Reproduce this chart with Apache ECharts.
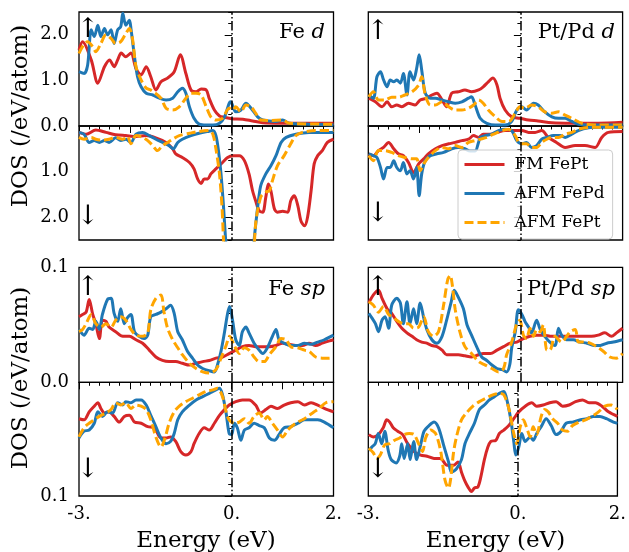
<!DOCTYPE html>
<html><head><meta charset="utf-8">
<script src="https://cdn.jsdelivr.net/npm/echarts@6/dist/echarts.min.js"></script>
<style>html,body{margin:0;padding:0;background:#fff}#c{width:629px;height:552px}</style>
</head><body><div id="c"></div>
<script>
const FONT = 'DejaVu Serif';
const seriesNames = ['FM FePt', 'AFM FePd', 'AFM FePt'];
const seriesColors = ['#d62728', '#1f77b4', '#ffa500'];
const panelTitles = [['Fe ', 'd'], ['Pt/Pd ', 'd'], ['Fe ', 'sp'], ['Pt/Pd ', 'sp']];
const xTickLabels = [-3, 0, 2];
const xMajorTicks = [-3, -2, -1, 0, 1, 2];
const yD_labelsUp = [0, 1, 2], yD_labelsDown = [1, 2], yD_major = [0, 1, 2];
const ySP_labelsUp = [0, 0.1], ySP_labelsDown = [0.1], ySP_major = [0, 0.1];

// ---- Fe d, spin up ----
const feD_up_FM = [[-3.00,1.67],[-2.93,1.85],[-2.76,1.45],[-2.63,0.94],[-2.50,1.30],[-2.40,1.45],[-2.31,1.30],[-2.24,1.45],[-2.17,1.60],[-2.08,1.52],[-1.98,1.60],[-1.88,1.26],[-1.78,1.12],[-1.68,1.30],[-1.59,1.08],[-1.49,0.79],[-1.39,0.97],[-1.26,1.05],[-1.13,1.19],[-1.01,1.56],[-0.90,1.15],[-0.80,0.79],[-0.70,0.75],[-0.60,0.81],[-0.50,0.79],[-0.44,0.60],[-0.34,0.35],[-0.24,0.22],[-0.14,0.19],[0.00,0.16],[0.22,0.15],[0.41,0.11],[0.61,0.07],[1.00,0.06],[2.00,0.06]];
const feD_up_AFMPd = [[-3.00,1.19],[-2.90,1.15],[-2.83,1.34],[-2.76,2.11],[-2.70,1.96],[-2.63,2.21],[-2.57,1.96],[-2.50,2.14],[-2.44,2.00],[-2.37,2.11],[-2.31,1.81],[-2.24,2.11],[-2.18,2.18],[-2.14,2.47],[-2.08,2.21],[-2.01,2.32],[-1.98,2.14],[-1.91,1.52],[-1.85,1.08],[-1.78,0.86],[-1.68,0.72],[-1.55,0.68],[-1.42,0.61],[-1.29,0.57],[-1.16,0.61],[-1.06,0.75],[-0.97,0.83],[-0.90,0.72],[-0.83,0.42],[-0.74,0.17],[-0.64,0.04],[-0.50,0.02],[-0.37,0.02],[-0.24,0.06],[-0.14,0.20],[-0.05,0.50],[-0.02,0.53],[0.08,0.31],[0.18,0.35],[0.28,0.50],[0.38,0.39],[0.51,0.20],[0.61,0.13],[0.87,0.10],[1.00,0.13],[1.13,0.06],[1.52,0.04],[2.00,0.02]];
const feD_up_AFMPt = [[-3.00,1.59],[-2.93,1.74],[-2.83,1.85],[-2.73,1.74],[-2.67,1.63],[-2.57,1.81],[-2.47,2.00],[-2.37,1.92],[-2.28,1.81],[-2.18,1.85],[-2.08,2.03],[-2.01,2.14],[-1.95,1.92],[-1.88,1.30],[-1.78,1.01],[-1.68,0.83],[-1.59,0.79],[-1.39,0.61],[-1.29,0.39],[-1.16,0.35],[-1.03,0.42],[-0.90,0.61],[-0.80,0.72],[-0.70,0.72],[-0.60,0.68],[-0.50,0.42],[-0.41,0.20],[-0.31,0.13],[-0.18,0.17],[-0.05,0.39],[0.02,0.35],[0.08,0.42],[0.18,0.31],[0.28,0.46],[0.38,0.42],[0.47,0.28],[0.57,0.13],[0.74,0.12],[1.00,0.13],[1.13,0.06],[2.00,0.04]];
// ---- Fe d, spin down ----
const feD_dn_FM = [[-3.00,0.14],[-2.86,0.18],[-2.67,0.09],[-2.47,0.14],[-2.28,0.19],[-2.08,0.21],[-1.88,0.23],[-1.68,0.21],[-1.49,0.26],[-1.29,0.36],[-1.16,0.50],[-1.10,0.61],[-0.97,0.69],[-0.83,0.80],[-0.74,0.94],[-0.67,1.16],[-0.60,1.26],[-0.54,1.16],[-0.47,1.16],[-0.41,1.05],[-0.31,0.94],[-0.18,0.80],[-0.08,0.69],[0.02,0.65],[0.15,0.65],[0.25,0.76],[0.34,1.05],[0.41,1.42],[0.47,1.64],[0.54,1.86],[0.61,1.89],[0.67,1.56],[0.72,1.27],[0.77,1.42],[0.84,1.82],[0.90,1.89],[1.00,1.87],[1.10,1.89],[1.16,1.64],[1.23,1.53],[1.30,1.75],[1.36,2.08],[1.43,2.19],[1.49,2.00],[1.56,1.42],[1.62,0.83],[1.69,0.65],[1.78,0.54],[1.88,0.36],[2.00,0.29]];
const feD_dn_AFMPd = [[-3.00,0.14],[-2.90,0.18],[-2.80,0.36],[-2.70,0.32],[-2.60,0.36],[-2.50,0.32],[-2.41,0.36],[-2.28,0.26],[-2.18,0.32],[-2.08,0.29],[-1.98,0.36],[-1.88,0.18],[-1.75,0.14],[-1.62,0.21],[-1.49,0.29],[-1.36,0.36],[-1.23,0.43],[-1.15,0.50],[-1.06,0.36],[-0.97,0.29],[-0.80,0.21],[-0.64,0.16],[-0.47,0.12],[-0.37,0.10],[-0.31,0.21],[-0.26,0.54],[-0.21,1.05],[-0.16,1.78],[-0.11,2.66],[-0.05,3.50],[0.15,5.00],[0.35,3.50],[0.44,2.50],[0.51,1.78],[0.57,1.31],[0.67,1.05],[0.77,0.87],[0.87,0.65],[0.97,0.36],[1.07,0.25],[1.26,0.18],[1.52,0.14],[2.00,0.14]];
const feD_dn_AFMPt = [[-3.00,0.25],[-2.90,0.29],[-2.76,0.25],[-2.67,0.29],[-2.54,0.31],[-2.41,0.29],[-2.28,0.25],[-2.14,0.29],[-2.05,0.23],[-1.98,0.39],[-1.88,0.21],[-1.75,0.25],[-1.65,0.32],[-1.55,0.43],[-1.46,0.54],[-1.36,0.43],[-1.26,0.36],[-1.16,0.29],[-1.03,0.21],[-0.83,0.16],[-0.64,0.12],[-0.44,0.10],[-0.37,0.18],[-0.31,0.50],[-0.24,1.05],[-0.19,1.78],[-0.16,2.50],[-0.10,3.50],[0.15,5.00],[0.40,3.50],[0.47,2.15],[0.57,1.56],[0.67,1.45],[0.74,1.42],[0.80,1.20],[0.90,0.87],[1.03,0.65],[1.16,0.39],[1.26,0.21],[1.39,0.14],[1.65,0.10],[2.00,0.10]];
// ---- Pt/Pd d, spin up ----
const ptD_up_FM = [[-2.99,0.61],[-2.86,0.53],[-2.73,0.42],[-2.63,0.53],[-2.54,0.42],[-2.44,0.46],[-2.34,0.42],[-2.21,0.50],[-2.08,0.46],[-1.98,0.57],[-1.85,0.61],[-1.75,0.68],[-1.65,0.72],[-1.55,0.57],[-1.46,0.42],[-1.36,0.72],[-1.23,0.75],[-1.10,0.79],[-0.97,0.75],[-0.83,0.79],[-0.74,0.86],[-0.64,0.97],[-0.55,1.05],[-0.47,0.90],[-0.41,0.61],[-0.31,0.35],[-0.18,0.20],[-0.02,0.17],[0.15,0.13],[0.34,0.11],[0.61,0.07],[1.00,0.06],[1.52,0.06],[2.00,0.08]];
const ptD_up_AFMPd = [[-2.99,0.68],[-2.90,0.61],[-2.83,1.08],[-2.76,1.19],[-2.70,1.01],[-2.63,0.86],[-2.57,1.01],[-2.50,0.97],[-2.44,1.01],[-2.37,0.94],[-2.31,1.15],[-2.24,0.68],[-2.18,1.19],[-2.11,1.01],[-2.05,1.26],[-2.00,1.56],[-1.95,1.23],[-1.88,0.72],[-1.78,0.61],[-1.68,0.61],[-1.55,0.57],[-1.42,0.53],[-1.29,0.50],[-1.16,0.53],[-1.03,0.61],[-0.97,0.64],[-0.90,0.46],[-0.80,0.17],[-0.67,0.06],[-0.50,0.02],[-0.31,0.02],[-0.18,0.10],[-0.08,0.35],[0.02,0.42],[0.11,0.35],[0.25,0.50],[0.34,0.46],[0.47,0.31],[0.61,0.20],[0.74,0.17],[0.87,0.17],[1.00,0.10],[1.13,0.04],[1.52,0.02],[2.00,0.02]];
const ptD_up_AFMPt = [[-2.99,0.64],[-2.90,0.75],[-2.80,0.57],[-2.67,0.57],[-2.54,0.63],[-2.41,0.63],[-2.28,0.68],[-2.14,0.75],[-2.01,0.90],[-1.95,1.08],[-1.88,0.68],[-1.78,0.46],[-1.68,0.46],[-1.55,0.53],[-1.42,0.42],[-1.29,0.35],[-1.16,0.35],[-1.03,0.39],[-0.93,0.46],[-0.83,0.57],[-0.74,0.50],[-0.64,0.35],[-0.50,0.20],[-0.37,0.10],[-0.24,0.10],[-0.11,0.28],[-0.02,0.42],[0.08,0.39],[0.21,0.46],[0.34,0.42],[0.47,0.31],[0.61,0.28],[0.74,0.31],[0.87,0.24],[1.00,0.17],[1.20,0.06],[1.52,0.02],[2.00,0.02]];
// ---- Pt/Pd d, spin down ----
const ptD_dn_FM = [[-2.99,0.61],[-2.90,0.65],[-2.80,0.54],[-2.70,0.47],[-2.60,0.36],[-2.50,0.50],[-2.41,0.61],[-2.31,0.65],[-2.21,0.80],[-2.11,1.02],[-2.01,0.83],[-1.91,0.72],[-1.82,0.61],[-1.68,0.50],[-1.55,0.43],[-1.42,0.39],[-1.29,0.36],[-1.16,0.32],[-1.03,0.29],[-0.93,0.21],[-0.83,0.25],[-0.74,0.18],[-0.60,0.18],[-0.47,0.14],[-0.31,0.10],[-0.14,0.10],[0.02,0.10],[0.15,0.14],[0.28,0.14],[0.41,0.10],[0.54,0.25],[0.70,0.36],[0.87,0.47],[1.07,0.43],[1.26,0.43],[1.46,0.47],[1.59,0.25],[1.72,0.14],[2.00,0.12]];
const ptD_dn_AFMPd = [[-2.99,0.61],[-2.90,0.65],[-2.83,0.69],[-2.76,0.91],[-2.70,1.16],[-2.63,0.91],[-2.57,0.91],[-2.50,0.76],[-2.44,0.91],[-2.37,0.98],[-2.31,0.80],[-2.24,1.05],[-2.18,0.98],[-2.11,1.16],[-2.05,0.91],[-2.00,1.53],[-1.95,1.05],[-1.88,0.76],[-1.78,0.65],[-1.65,0.61],[-1.52,0.58],[-1.36,0.50],[-1.23,0.47],[-1.10,0.50],[-1.00,0.55],[-0.90,0.55],[-0.83,0.35],[-0.80,0.25],[-0.70,0.21],[-0.57,0.18],[-0.44,0.10],[-0.31,0.07],[-0.18,0.10],[-0.08,0.32],[0.02,0.39],[0.11,0.36],[0.21,0.47],[0.31,0.43],[0.41,0.29],[0.51,0.25],[0.64,0.21],[0.77,0.21],[0.87,0.25],[1.00,0.18],[1.13,0.10],[1.33,0.04],[1.52,0.03],[2.00,0.03]];
const ptD_dn_AFMPt = [[-2.99,0.65],[-2.90,0.76],[-2.80,0.54],[-2.67,0.54],[-2.54,0.58],[-2.41,0.65],[-2.28,0.69],[-2.14,0.72],[-2.05,0.72],[-1.98,0.98],[-1.91,0.83],[-1.82,0.69],[-1.68,0.54],[-1.55,0.47],[-1.42,0.50],[-1.29,0.43],[-1.16,0.47],[-1.03,0.36],[-0.90,0.32],[-0.80,0.29],[-0.67,0.25],[-0.54,0.18],[-0.37,0.10],[-0.24,0.07],[-0.11,0.21],[-0.02,0.39],[0.11,0.39],[0.21,0.47],[0.31,0.47],[0.41,0.36],[0.51,0.29],[0.61,0.25],[0.74,0.25],[0.87,0.18],[1.00,0.14],[1.13,0.07],[1.39,0.03],[2.00,0.03]];
// ---- Fe sp, spin up ----
const feSP_up_FM = [[-3.00,0.057],[-2.93,0.059],[-2.86,0.061],[-2.80,0.072],[-2.73,0.059],[-2.67,0.051],[-2.60,0.038],[-2.54,0.054],[-2.47,0.053],[-2.41,0.048],[-2.28,0.044],[-2.14,0.040],[-2.01,0.040],[-1.88,0.037],[-1.75,0.034],[-1.62,0.028],[-1.49,0.022],[-1.36,0.019],[-1.23,0.018],[-1.10,0.018],[-0.97,0.0165],[-0.83,0.015],[-0.70,0.0165],[-0.57,0.018],[-0.44,0.019],[-0.31,0.021],[-0.18,0.022],[-0.05,0.025],[0.08,0.028],[0.21,0.031],[0.34,0.032],[0.47,0.031],[0.61,0.031],[0.74,0.031],[0.87,0.032],[1.00,0.034],[1.13,0.033],[1.26,0.032],[1.39,0.032],[1.52,0.034],[1.65,0.032],[1.78,0.034],[1.92,0.036],[2.00,0.037]];
const feSP_up_AFMPd = [[-3.00,0.046],[-2.90,0.041],[-2.80,0.047],[-2.73,0.046],[-2.67,0.053],[-2.60,0.046],[-2.54,0.059],[-2.44,0.072],[-2.37,0.073],[-2.31,0.060],[-2.24,0.053],[-2.18,0.064],[-2.11,0.051],[-2.05,0.056],[-1.98,0.059],[-1.91,0.044],[-1.82,0.040],[-1.72,0.038],[-1.65,0.041],[-1.59,0.057],[-1.49,0.059],[-1.39,0.061],[-1.29,0.064],[-1.20,0.067],[-1.13,0.060],[-1.06,0.044],[-0.97,0.037],[-0.87,0.027],[-0.77,0.021],[-0.67,0.015],[-0.57,0.012],[-0.44,0.010],[-0.34,0.009],[-0.28,0.015],[-0.21,0.027],[-0.14,0.044],[-0.08,0.060],[-0.04,0.066],[0.02,0.053],[0.08,0.037],[0.15,0.032],[0.21,0.044],[0.28,0.048],[0.34,0.043],[0.44,0.034],[0.54,0.028],[0.61,0.025],[0.70,0.030],[0.80,0.040],[0.87,0.046],[0.93,0.037],[1.03,0.034],[1.16,0.032],[1.30,0.032],[1.43,0.034],[1.56,0.033],[1.69,0.035],[1.82,0.037],[2.00,0.041]];
const feSP_up_AFMPt = [[-3.00,0.044],[-2.93,0.046],[-2.86,0.051],[-2.76,0.059],[-2.67,0.051],[-2.57,0.048],[-2.47,0.051],[-2.37,0.048],[-2.28,0.054],[-2.18,0.057],[-2.08,0.054],[-1.98,0.046],[-1.88,0.041],[-1.75,0.040],[-1.65,0.043],[-1.59,0.063],[-1.49,0.073],[-1.39,0.076],[-1.33,0.061],[-1.26,0.047],[-1.16,0.037],[-1.06,0.030],[-0.97,0.024],[-0.83,0.0165],[-0.70,0.012],[-0.57,0.009],[-0.44,0.008],[-0.31,0.011],[-0.21,0.021],[-0.11,0.032],[-0.04,0.040],[0.05,0.032],[0.15,0.025],[0.25,0.030],[0.34,0.028],[0.44,0.022],[0.54,0.018],[0.64,0.018],[0.74,0.024],[0.87,0.031],[0.97,0.038],[1.07,0.037],[1.16,0.031],[1.30,0.030],[1.43,0.028],[1.52,0.027],[1.65,0.022],[1.78,0.021],[1.92,0.021],[2.00,0.022]];
// ---- Fe sp, spin down ----
const feSP_dn_FM = [[-3.00,0.032],[-2.90,0.033],[-2.80,0.026],[-2.70,0.021],[-2.63,0.018],[-2.57,0.023],[-2.50,0.027],[-2.41,0.026],[-2.31,0.030],[-2.21,0.035],[-2.11,0.030],[-2.01,0.029],[-1.91,0.035],[-1.78,0.036],[-1.65,0.039],[-1.52,0.040],[-1.39,0.049],[-1.29,0.049],[-1.20,0.048],[-1.10,0.052],[-1.00,0.061],[-0.90,0.064],[-0.80,0.061],[-0.74,0.054],[-0.64,0.045],[-0.54,0.040],[-0.44,0.042],[-0.34,0.036],[-0.24,0.029],[-0.14,0.024],[-0.05,0.020],[0.08,0.017],[0.21,0.0155],[0.34,0.0155],[0.47,0.020],[0.57,0.027],[0.67,0.024],[0.77,0.021],[0.90,0.023],[1.03,0.020],[1.16,0.018],[1.30,0.017],[1.43,0.020],[1.56,0.018],[1.69,0.020],[1.82,0.023],[2.00,0.026]];
const feSP_dn_AFMPd = [[-3.00,0.049],[-2.90,0.043],[-2.80,0.042],[-2.70,0.036],[-2.63,0.026],[-2.54,0.030],[-2.44,0.026],[-2.34,0.027],[-2.24,0.018],[-2.14,0.020],[-2.08,0.017],[-1.98,0.018],[-1.88,0.0155],[-1.78,0.0155],[-1.68,0.020],[-1.59,0.029],[-1.49,0.039],[-1.39,0.049],[-1.29,0.054],[-1.20,0.052],[-1.13,0.045],[-1.06,0.033],[-0.97,0.026],[-0.83,0.020],[-0.70,0.0155],[-0.57,0.0126],[-0.44,0.0097],[-0.31,0.0067],[-0.24,0.0053],[-0.18,0.011],[-0.11,0.027],[-0.05,0.045],[0.00,0.046],[0.05,0.036],[0.11,0.040],[0.18,0.051],[0.25,0.042],[0.34,0.040],[0.44,0.036],[0.54,0.038],[0.64,0.040],[0.74,0.049],[0.84,0.051],[0.93,0.046],[1.03,0.040],[1.16,0.039],[1.30,0.036],[1.43,0.033],[1.56,0.033],[1.69,0.033],[1.82,0.035],[2.00,0.040]];
const feSP_dn_AFMPt = [[-3.00,0.048],[-2.90,0.040],[-2.80,0.036],[-2.70,0.033],[-2.60,0.030],[-2.47,0.027],[-2.37,0.024],[-2.28,0.018],[-2.18,0.020],[-2.08,0.018],[-1.98,0.023],[-1.88,0.020],[-1.78,0.021],[-1.68,0.024],[-1.59,0.033],[-1.49,0.048],[-1.39,0.057],[-1.31,0.049],[-1.23,0.036],[-1.13,0.026],[-1.03,0.021],[-0.90,0.017],[-0.77,0.014],[-0.64,0.011],[-0.50,0.008],[-0.37,0.0067],[-0.28,0.0053],[-0.18,0.0126],[-0.11,0.026],[-0.05,0.033],[0.05,0.036],[0.15,0.035],[0.25,0.032],[0.34,0.036],[0.44,0.030],[0.54,0.027],[0.64,0.033],[0.70,0.030],[0.80,0.036],[0.90,0.042],[1.00,0.048],[1.10,0.042],[1.20,0.038],[1.30,0.035],[1.43,0.032],[1.52,0.029],[1.62,0.026],[1.72,0.023],[1.85,0.018],[2.00,0.017]];
// ---- Pt/Pd sp, spin up ----
const ptSP_up_FM = [[-2.99,0.069],[-2.90,0.076],[-2.80,0.080],[-2.73,0.073],[-2.63,0.064],[-2.54,0.060],[-2.44,0.053],[-2.34,0.047],[-2.24,0.043],[-2.14,0.040],[-2.05,0.037],[-1.95,0.035],[-1.85,0.034],[-1.75,0.032],[-1.65,0.031],[-1.55,0.028],[-1.46,0.024],[-1.36,0.024],[-1.23,0.024],[-1.10,0.023],[-0.97,0.022],[-0.83,0.024],[-0.74,0.025],[-0.60,0.025],[-0.47,0.028],[-0.34,0.031],[-0.21,0.034],[-0.08,0.035],[0.05,0.038],[0.18,0.040],[0.31,0.041],[0.44,0.041],[0.61,0.040],[0.74,0.040],[0.87,0.040],[1.00,0.040],[1.13,0.040],[1.26,0.040],[1.39,0.040],[1.52,0.041],[1.65,0.043],[1.78,0.040],[1.88,0.043],[2.00,0.047]];
const ptSP_up_AFMPd = [[-2.99,0.060],[-2.93,0.056],[-2.86,0.051],[-2.80,0.044],[-2.73,0.054],[-2.67,0.057],[-2.60,0.047],[-2.54,0.067],[-2.44,0.073],[-2.37,0.069],[-2.31,0.051],[-2.24,0.070],[-2.18,0.051],[-2.11,0.064],[-2.05,0.051],[-1.98,0.069],[-1.91,0.056],[-1.85,0.046],[-1.75,0.037],[-1.65,0.034],[-1.55,0.040],[-1.46,0.054],[-1.37,0.070],[-1.31,0.080],[-1.23,0.074],[-1.13,0.064],[-1.06,0.050],[-0.97,0.041],[-0.87,0.031],[-0.77,0.022],[-0.67,0.019],[-0.57,0.015],[-0.47,0.012],[-0.37,0.011],[-0.28,0.009],[-0.22,0.015],[-0.18,0.030],[-0.11,0.044],[-0.05,0.063],[0.02,0.059],[0.08,0.053],[0.15,0.048],[0.21,0.043],[0.31,0.054],[0.38,0.046],[0.47,0.040],[0.57,0.035],[0.67,0.032],[0.74,0.047],[0.80,0.041],[0.90,0.037],[1.03,0.037],[1.16,0.035],[1.30,0.034],[1.43,0.032],[1.56,0.032],[1.69,0.034],[1.82,0.035],[2.00,0.037]];
const ptSP_up_AFMPt = [[-2.99,0.070],[-2.90,0.067],[-2.80,0.061],[-2.70,0.066],[-2.60,0.059],[-2.50,0.056],[-2.41,0.053],[-2.31,0.051],[-2.21,0.051],[-2.11,0.047],[-2.01,0.048],[-1.91,0.057],[-1.82,0.044],[-1.72,0.040],[-1.62,0.044],[-1.52,0.067],[-1.44,0.089],[-1.39,0.093],[-1.35,0.085],[-1.29,0.063],[-1.20,0.044],[-1.10,0.031],[-0.97,0.025],[-0.83,0.018],[-0.70,0.015],[-0.57,0.012],[-0.44,0.009],[-0.34,0.012],[-0.28,0.024],[-0.18,0.035],[-0.08,0.051],[-0.02,0.054],[0.05,0.041],[0.11,0.038],[0.18,0.047],[0.25,0.040],[0.31,0.046],[0.38,0.044],[0.44,0.050],[0.51,0.028],[0.57,0.028],[0.67,0.040],[0.80,0.035],[0.90,0.040],[0.97,0.044],[1.07,0.046],[1.13,0.035],[1.23,0.035],[1.36,0.034],[1.49,0.031],[1.62,0.027],[1.75,0.022],[1.88,0.021],[2.00,0.025]];
// ---- Pt/Pd sp, spin down ----
const ptSP_dn_FM = [[-2.99,0.046],[-2.90,0.048],[-2.80,0.046],[-2.70,0.040],[-2.63,0.033],[-2.57,0.035],[-2.50,0.040],[-2.41,0.043],[-2.31,0.046],[-2.21,0.054],[-2.08,0.061],[-1.95,0.064],[-1.82,0.065],[-1.68,0.067],[-1.55,0.067],[-1.42,0.073],[-1.29,0.073],[-1.20,0.070],[-1.13,0.079],[-1.06,0.087],[-1.00,0.092],[-0.93,0.096],[-0.87,0.093],[-0.80,0.092],[-0.74,0.083],[-0.67,0.068],[-0.60,0.057],[-0.54,0.052],[-0.44,0.051],[-0.37,0.045],[-0.28,0.042],[-0.18,0.038],[-0.08,0.032],[0.02,0.026],[0.15,0.021],[0.28,0.018],[0.38,0.021],[0.51,0.020],[0.64,0.018],[0.77,0.017],[0.90,0.021],[1.03,0.020],[1.16,0.017],[1.30,0.0155],[1.43,0.018],[1.56,0.018],[1.69,0.021],[1.82,0.026],[2.00,0.030]];
const ptSP_dn_AFMPd = [[-2.99,0.060],[-2.93,0.057],[-2.86,0.054],[-2.80,0.045],[-2.73,0.054],[-2.67,0.043],[-2.60,0.060],[-2.54,0.068],[-2.44,0.071],[-2.37,0.065],[-2.33,0.054],[-2.28,0.067],[-2.21,0.054],[-2.16,0.068],[-2.09,0.052],[-2.03,0.068],[-1.95,0.055],[-1.88,0.043],[-1.78,0.038],[-1.68,0.035],[-1.59,0.040],[-1.49,0.055],[-1.39,0.070],[-1.33,0.079],[-1.23,0.076],[-1.13,0.068],[-1.06,0.054],[-0.97,0.045],[-0.87,0.036],[-0.77,0.024],[-0.67,0.020],[-0.57,0.0155],[-0.47,0.0126],[-0.37,0.0097],[-0.28,0.008],[-0.21,0.017],[-0.14,0.033],[-0.08,0.052],[-0.04,0.064],[0.02,0.057],[0.08,0.045],[0.15,0.052],[0.25,0.048],[0.31,0.051],[0.38,0.045],[0.47,0.039],[0.57,0.032],[0.67,0.038],[0.77,0.046],[0.87,0.043],[0.97,0.036],[1.10,0.035],[1.26,0.033],[1.39,0.032],[1.52,0.030],[1.65,0.030],[1.78,0.032],[1.92,0.035],[2.00,0.036]];
const ptSP_dn_AFMPt = [[-2.99,0.058],[-2.90,0.062],[-2.83,0.067],[-2.76,0.064],[-2.67,0.055],[-2.57,0.054],[-2.47,0.051],[-2.37,0.049],[-2.28,0.046],[-2.18,0.045],[-2.08,0.046],[-1.98,0.055],[-1.91,0.061],[-1.85,0.049],[-1.75,0.042],[-1.65,0.045],[-1.55,0.060],[-1.46,0.086],[-1.39,0.093],[-1.35,0.086],[-1.29,0.062],[-1.23,0.048],[-1.13,0.033],[-1.03,0.027],[-0.90,0.021],[-0.77,0.017],[-0.64,0.014],[-0.50,0.011],[-0.37,0.0097],[-0.28,0.011],[-0.18,0.023],[-0.08,0.045],[-0.02,0.054],[0.05,0.039],[0.11,0.033],[0.18,0.040],[0.25,0.048],[0.31,0.039],[0.38,0.046],[0.47,0.030],[0.54,0.024],[0.61,0.026],[0.70,0.032],[0.80,0.036],[0.90,0.042],[1.00,0.043],[1.10,0.038],[1.23,0.035],[1.36,0.033],[1.49,0.030],[1.62,0.026],[1.75,0.021],[1.88,0.020],[2.00,0.024]];

// ---- build ----
const panels = [
  { up: [feD_up_FM, feD_up_AFMPd, feD_up_AFMPt], dn: [feD_dn_FM, feD_dn_AFMPd, feD_dn_AFMPt], max: 2.5, minor: 0.25, major: yD_major, labUp: yD_labelsUp, labDn: yD_labelsDown },
  { up: [ptD_up_FM, ptD_up_AFMPd, ptD_up_AFMPt], dn: [ptD_dn_FM, ptD_dn_AFMPd, ptD_dn_AFMPt], max: 2.5, minor: 0.25, major: yD_major, labUp: yD_labelsUp, labDn: yD_labelsDown },
  { up: [feSP_up_FM, feSP_up_AFMPd, feSP_up_AFMPt], dn: [feSP_dn_FM, feSP_dn_AFMPd, feSP_dn_AFMPt], max: 0.1, minor: 0.01, major: ySP_major, labUp: ySP_labelsUp, labDn: ySP_labelsDown },
  { up: [ptSP_up_FM, ptSP_up_AFMPd, ptSP_up_AFMPt], dn: [ptSP_dn_FM, ptSP_dn_AFMPd, ptSP_dn_AFMPt], max: 0.1, minor: 0.01, major: ySP_major, labUp: ySP_labelsUp, labDn: ySP_labelsDown }
];
const colLeft = [79, 368.3], colW = [254.5, 254.3];
const rowBoxes = [[12, 114, 126, 114], [267.3, 115, 382.3, 113.7]]; // upTop, upH, dnTop, dnH

const grid = [], xAxis = [], yAxis = [], series = [];
const tickLine = { color: '#000', width: 1 };
const labelStyle = { fontFamily: FONT, fontSize: 18, color: '#000' };

panels.forEach((p, pi) => {
  const col = pi % 2, row = Math.floor(pi / 2);
  const rb = rowBoxes[row];
  ['up', 'dn'].forEach((half, hi) => {
    const gi = grid.length;
    grid.push({ left: colLeft[col], width: colW[col], top: hi === 0 ? rb[0] : rb[2], height: hi === 0 ? rb[1] : rb[3],
      show: true, borderColor: '#000', borderWidth: 1.3, backgroundColor: 'transparent', containLabel: false });
    const isDn = hi === 1, bottomRow = row === 1, showY = col === 0;
    xAxis.push({ type: 'value', gridIndex: gi, position: 'bottom', min: -3, max: 2, interval: 0.2,
      axisLine: { show: false }, splitLine: { show: false },
      axisTick: { show: isDn, length: 3.5, lineStyle: tickLine }, axisLabel: { show: false } });
    xAxis.push({ type: 'value', gridIndex: gi, position: 'bottom', min: -3, max: 2, interval: 1,
      axisLine: { show: false }, splitLine: { show: false },
      axisTick: { show: isDn, length: 7, customValues: xMajorTicks, lineStyle: tickLine },
      axisLabel: Object.assign({ show: isDn && bottomRow, customValues: xTickLabels, margin: 9,
        formatter: v => Math.round(v) + '.' }, labelStyle) });
    yAxis.push({ type: 'value', gridIndex: gi, position: 'left', min: 0, max: p.max, interval: p.minor, inverse: isDn,
      axisLine: { show: false }, splitLine: { show: false },
      axisTick: { show: true, length: 3.5, lineStyle: tickLine }, axisLabel: { show: false } });
    yAxis.push({ type: 'value', gridIndex: gi, position: 'left', min: 0, max: p.max, interval: p.minor, inverse: isDn,
      axisLine: { show: false }, splitLine: { show: false },
      axisTick: { show: true, length: 7, customValues: p.major, lineStyle: tickLine },
      axisLabel: Object.assign({ show: showY, customValues: isDn ? p.labDn : p.labUp, margin: 10,
        formatter: v => v.toFixed(1) }, labelStyle) });
    const data = p[half];
    data.forEach((d, si) => {
      const s = { type: 'line', name: seriesNames[si], data: d, xAxisIndex: 2 * gi, yAxisIndex: 2 * gi,
        symbol: 'none', smooth: 0.3, clip: true, animation: false,
        lineStyle: { color: seriesColors[si], width: 3, type: si === 2 ? [9, 4] : 'solid' },
        itemStyle: { color: seriesColors[si] } };
      if (si === 2) {
        s.markLine = { silent: true, symbol: ['none', 'none'], label: { show: false }, animation: false,
          lineStyle: { color: '#000', width: 1.5, type: [9.6, 2.4, 1.5, 2.4] }, data: [{ xAxis: 0 }] };
      }
      series.push(s);
    });
  });
});

const titles = [];
const titlePos = [[304, 22], [14, 22], [304, 279], [14, 279]];
panelTitles.forEach((t, i) => {
  titles.push({ text: '{r|' + t[0] + '}{i|' + t[1] + '}', right: titlePos[i][0], top: titlePos[i][1], padding: 0,
    textStyle: { fontWeight: 'normal', rich: { r: { fontFamily: FONT, fontSize: 21, fontWeight: 'normal', color: '#000' }, i: { fontFamily: FONT, fontSize: 21, fontWeight: 'normal', fontStyle: 'italic', color: '#000' } } } });
});

function txt(x, y, s, size, rot) {
  return { type: 'text', x: x, y: y, rotation: rot || 0, z: 100,
    style: { text: s, font: size + 'px "' + FONT + '"', fill: '#000', align: 'center', verticalAlign: 'middle', textAlign: 'center', textVerticalAlign: 'middle' } };
}
const graphic = [
  txt(21, 116, 'DOS (/eV/atom)', 23, Math.PI / 2),
  txt(21, 378, 'DOS (/eV/atom)', 23, Math.PI / 2),
  txt(206, 541, 'Energy (eV)', 23),
  txt(495.5, 541, 'Energy (eV)', 23),
  txt(88, 30, '↑', 27), txt(88, 217, '↓', 27),
  txt(378, 32, '↑', 27), txt(378, 214, '↓', 27),
  txt(88, 288, '↑', 27), txt(88, 470, '↓', 27),
  txt(378, 288, '↑', 27), txt(378, 470, '↓', 27)
];

const chart = echarts.init(document.getElementById('c'), null, { renderer: 'canvas' });
chart.setOption({
  animation: false,
  backgroundColor: '#fff',
  title: titles,
  grid: grid, xAxis: xAxis, yAxis: yAxis, series: series,
  legend: { data: seriesNames, orient: 'vertical', left: 458, top: 150, itemWidth: 40, itemHeight: 14, itemGap: 12,
    padding: [6, 8, 8, 5], backgroundColor: 'rgba(255,255,255,0.8)', borderColor: '#cccccc', borderWidth: 1, borderRadius: 4,
    itemStyle: { opacity: 0 }, lineStyle: { width: 3 },
    textStyle: { fontFamily: FONT, fontSize: 17, color: '#000', padding: [0, 0, 0, 5] } },
  graphic: graphic
});
</script></body></html>
